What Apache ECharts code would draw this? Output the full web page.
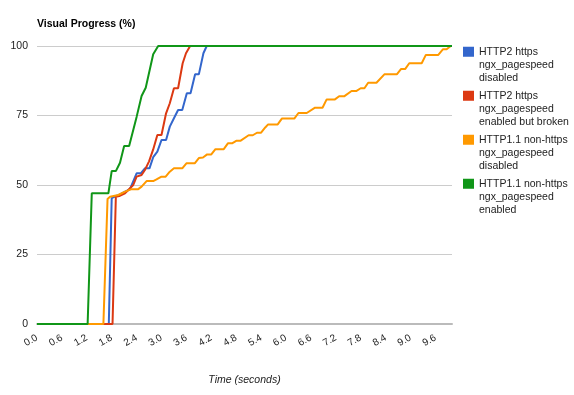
<!DOCTYPE html>
<html>
<head>
<meta charset="utf-8">
<script src="https://cdn.jsdelivr.net/npm/echarts@6/dist/echarts.min.js"></script>
<style>html,body{margin:0;padding:0;background:#fff;}#c{width:574px;height:395px;}</style>
</head>
<body>
<div id="c"></div>
<script>
// Series names (legend text, wrapped as in the reference)
const seriesNames = [
  "HTTP2 https\nngx_pagespeed\ndisabled",
  "HTTP2 https\nngx_pagespeed\nenabled but broken",
  "HTTP1.1 non-https\nngx_pagespeed\ndisabled",
  "HTTP1.1 non-https\nngx_pagespeed\nenabled"
];
const seriesColors = ["#3366cc", "#dc3912", "#ff9900", "#109618"];

// Time (seconds) and Visual Progress (%) per series
const http2DisabledT = [0, 1.73, 1.8, 1.9, 2.0, 2.1, 2.24, 2.4, 2.5, 2.6, 2.71, 2.8, 2.9, 3.0, 3.11, 3.2, 3.3, 3.4, 3.5, 3.61, 3.7, 3.81, 3.9, 4.01, 4.09, 10];
const http2DisabledV = [0, 0, 45.3, 46, 46.6, 47.4, 48.5, 54.2, 54.2, 56, 56, 60, 62, 66.2, 66.2, 71, 74, 77, 77, 83, 83, 89.8, 89.8, 97.4, 100, 100];

const http2BrokenT = [0, 1.82, 1.9, 1.98, 2.12, 2.2, 2.32, 2.4, 2.52, 2.6, 2.7, 2.8, 2.9, 3.0, 3.11, 3.2, 3.3, 3.4, 3.51, 3.59, 3.69, 10];
const http2BrokenV = [0, 0, 45.8, 46, 47, 48.2, 50, 53, 53.6, 55.4, 58.5, 62.8, 68, 68, 75.8, 79.4, 84.8, 84.8, 93.8, 97.4, 100, 100];

const http11DisabledT = [0, 1.6, 1.7, 1.76, 1.96, 2.12, 2.28, 2.44, 2.52, 2.64, 2.8, 2.88, 3.0, 3.1, 3.2, 3.3, 3.5, 3.6, 3.8, 3.9, 4.0, 4.1, 4.2, 4.3, 4.5, 4.6, 4.7, 4.8, 4.9, 5.1, 5.2, 5.3, 5.4, 5.5, 5.57, 5.8, 5.9, 6.2, 6.3, 6.5, 6.7, 6.88, 6.98, 7.18, 7.28, 7.4, 7.58, 7.69, 7.8, 7.89, 7.98, 8.18, 8.37, 8.67, 8.77, 8.87, 8.97, 9.27, 9.37, 9.67, 9.78, 9.87, 9.97, 10];
const http11DisabledV = [0, 0, 45, 45.8, 46.4, 47.6, 48.5, 48.5, 49.4, 51.4, 51.4, 52, 53, 53, 54.8, 56, 56, 57.8, 57.8, 59.7, 59.9, 61, 61, 62.9, 62.9, 65, 65, 65.9, 65.9, 67.9, 67.9, 68.8, 68.8, 70.7, 71.8, 71.8, 73.9, 73.9, 75.9, 75.9, 77.8, 77.8, 80.8, 80.8, 81.9, 81.9, 83.8, 83.8, 84.8, 84.8, 86.8, 86.8, 89.8, 89.8, 91.7, 91.7, 93.8, 93.8, 96.8, 96.8, 98.8, 98.8, 100, 100];

const http11EnabledT = [0, 1.22, 1.32, 1.72, 1.8, 1.9, 2.0, 2.1, 2.22, 2.4, 2.52, 2.62, 2.8, 2.92, 10];
const http11EnabledV = [0, 0, 47, 47, 55, 55, 58, 64, 64, 74.5, 82, 85, 97, 100, 100];

const seriesT = [http2DisabledT, http2BrokenT, http11DisabledT, http11EnabledT];
const seriesV = [http2DisabledV, http2BrokenV, http11DisabledV, http11EnabledV];

const yTicks = [0, 25, 50, 75, 100];
const titleText = "Visual Progress (%)";
const xName = "Time (seconds)";

const FONT = 'Arial, "Liberation Sans", sans-serif';
const chart = echarts.init(document.getElementById('c'), null, {renderer: 'canvas'});

const series = seriesNames.map((name, i) => ({
  name: name,
  type: 'line',
  data: seriesT[i].map((t, j) => [t, seriesV[i][j]]),
  showSymbol: false,
  symbol: 'none',
  lineStyle: {width: 2, color: seriesColors[i]},
  itemStyle: {color: seriesColors[i]},
  animation: false
}));

chart.setOption({
  animation: false,
  textStyle: {fontFamily: FONT},
  title: {
    text: titleText,
    left: 37, top: 19, padding: 0,
    textStyle: {fontSize: 10.5, fontWeight: 'bold', color: '#000', fontFamily: FONT}
  },
  grid: {left: 37, right: 122, top: 46, bottom: 71, containLabel: false},
  legend: {
    orient: 'vertical',
    left: 463, top: 45, padding: 0,
    itemWidth: 11, itemHeight: 40, itemGap: 4,
    icon: 'path://M0,0H11V0.01H0Z M0,1.7H11V11.7H0Z M0,39.99H11V40H0Z',
    itemStyle: {borderWidth: 0},
    textStyle: {fontSize: 10.5, lineHeight: 13.3, color: '#222', fontFamily: FONT},
    data: seriesNames
  },
  xAxis: {
    type: 'value', min: 0, max: 10, interval: 0.6,
    name: xName, nameLocation: 'middle', nameGap: 51,
    nameTextStyle: {fontSize: 10.5, fontStyle: 'italic', color: '#222', fontFamily: FONT},
    axisLine: {show: true, lineStyle: {color: '#bbb', width: 2}},
    axisTick: {show: false},
    splitLine: {show: false},
    axisLabel: {
      rotate: 30, margin: 13, fontSize: 10, color: '#222', fontFamily: FONT,
      showMaxLabel: false,
      formatter: v => v.toFixed(1)
    }
  },
  yAxis: {
    type: 'value', min: yTicks[0], max: yTicks[yTicks.length - 1], interval: yTicks[1] - yTicks[0],
    axisLine: {show: false}, axisTick: {show: false},
    splitLine: {show: true, lineStyle: {color: '#ccc', width: 1}},
    axisLabel: {margin: 9, fontSize: 10.5, color: '#222', fontFamily: FONT}
  },
  series: series
});
</script>
</body>
</html>
